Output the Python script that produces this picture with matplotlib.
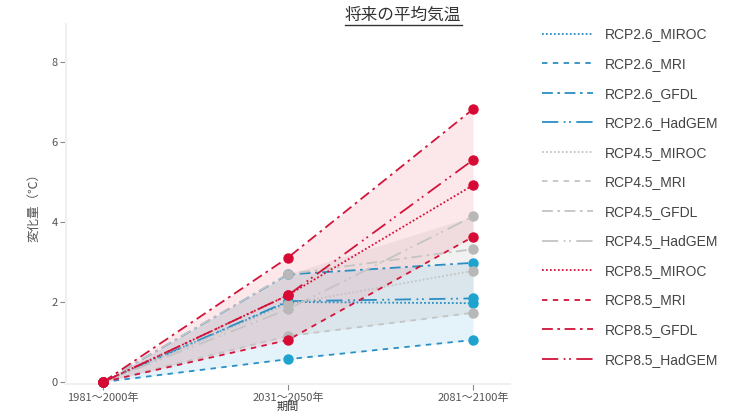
import matplotlib
matplotlib.use("Agg")
import matplotlib.pyplot as plt
from matplotlib.lines import Line2D
import numpy as np

plt.rcParams['font.family'] = ['Noto Sans CJK JP', 'DejaVu Sans']

periods = ['1981～2000年', '2031～2050年', '2081～2100年']
models = ['MIROC', 'MRI', 'GFDL', 'HadGEM']
scenarios = ['RCP2.6', 'RCP4.5', 'RCP8.5']

rcp26_miroc = [0, 2.00, 1.97]
rcp26_mri = [0, 0.57, 1.05]
rcp26_gfdl = [0, 2.69, 2.98]
rcp26_hadgem = [0, 2.02, 2.09]
rcp45_miroc = [0, 1.95, 2.78]
rcp45_mri = [0, 1.15, 1.73]
rcp45_gfdl = [0, 2.70, 3.32]
rcp45_hadgem = [0, 1.82, 4.14]
rcp85_miroc = [0, 2.17, 4.92]
rcp85_mri = [0, 1.05, 3.63]
rcp85_gfdl = [0, 3.11, 6.82]
rcp85_hadgem = [0, 2.17, 5.55]

data = {
    'RCP2.6': [rcp26_miroc, rcp26_mri, rcp26_gfdl, rcp26_hadgem],
    'RCP4.5': [rcp45_miroc, rcp45_mri, rcp45_gfdl, rcp45_hadgem],
    'RCP8.5': [rcp85_miroc, rcp85_mri, rcp85_gfdl, rcp85_hadgem],
}

line_colors = {'RCP2.6': '#2a8fc4', 'RCP4.5': '#c4c4c4', 'RCP8.5': '#d2143a'}
marker_colors = {'RCP2.6': '#1ea3cf', 'RCP4.5': '#b8b8b8', 'RCP8.5': '#d60a35'}
fill_colors = {'RCP2.6': '#5ab4e0', 'RCP4.5': '#a8a8a8', 'RCP8.5': '#f07080'}
styles = [(0, (1, 1.2)), (0, (3, 3)), (0, (6, 2.5, 1.5, 2.5)), (0, (9, 3, 1, 2, 1, 3))]

fig = plt.figure(figsize=(7.36, 4.11), dpi=100)
ax = fig.add_axes([66/736, 1-384/411, (510-66)/736, (384-24)/411])

x = np.arange(len(periods))

for sc in scenarios:
    arr = np.array(data[sc])
    ax.fill_between(x, arr.min(axis=0), arr.max(axis=0),
                    color=fill_colors[sc], alpha=0.16, linewidth=0, zorder=1)

for sc in scenarios:
    for m, vals, ls in zip(models, data[sc], styles):
        ax.plot(x, vals, color=line_colors[sc], linestyle=ls, linewidth=1.3,
                label=f'{sc}_{m}', zorder=3)
        ax.plot(x, vals, linestyle='none', marker='o', markersize=6.5,
                color=marker_colors[sc], zorder=4, clip_on=False)

ax.set_xlim(-0.2, 2.2)
ax.set_ylim(-0.05, 8.95)
ax.set_xticks(x)
ax.set_xticklabels(periods, fontsize=8, color='#555555')
ax.set_yticks([0, 2, 4, 6, 8])
ax.set_yticklabels(['0', '2', '4', '6', '8'], fontsize=8, color='#555555')
ax.tick_params(axis='both', length=4, color='#888888', width=0.8, pad=2)
ax.set_xlabel('期間', fontsize=8, color='#333333', labelpad=-1)
ax.set_ylabel('変化量（℃）', fontsize=9, color='#555555', labelpad=8)
for s in ['top', 'right']:
    ax.spines[s].set_visible(False)
for s in ['left', 'bottom']:
    ax.spines[s].set_color('#f0f0f0')
    ax.spines[s].set_linewidth(1.5)

fig.text(403/736, 1-15/411, '将来の平均気温', ha='center', va='center',
         fontsize=12, color='#333333')
fig.add_artist(Line2D([345/736, 462/736], [1-25/411, 1-25/411],
                      transform=fig.transFigure, color='#333333', linewidth=1))

leg = ax.legend(loc='upper left', bbox_to_anchor=(529/736, 1-15/411),
                bbox_transform=fig.transFigure, frameon=False,
                prop={'family': 'Liberation Sans', 'size': 10},
                handlelength=3.7, handletextpad=0.85, labelspacing=1.12)
for t in leg.get_texts():
    t.set_color('#444444')

fig.savefig('out.png', dpi=100)
